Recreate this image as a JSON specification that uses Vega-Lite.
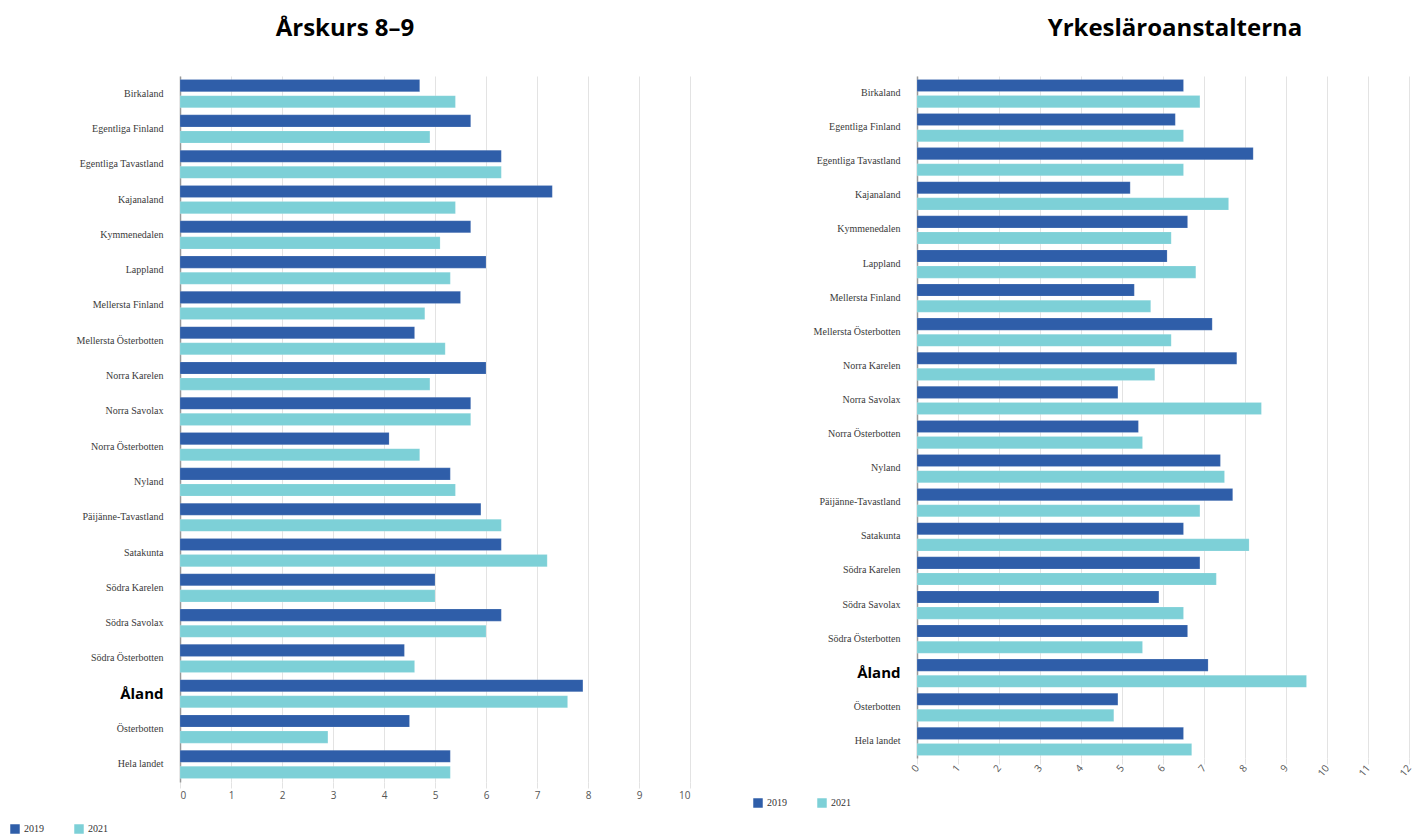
{
  "$schema": "https://vega.github.io/schema/vega-lite/v6.json",
  "padding": {"left": 10, "top": 17, "right": 5, "bottom": 5},
  "background": "white",
  "datasets": {
    "ak": [
      {"region": "Birkaland", "year": "2019", "value": 4.7}, {"region": "Birkaland", "year": "2021", "value": 5.4},
      {"region": "Egentliga Finland", "year": "2019", "value": 5.7}, {"region": "Egentliga Finland", "year": "2021", "value": 4.9},
      {"region": "Egentliga Tavastland", "year": "2019", "value": 6.3}, {"region": "Egentliga Tavastland", "year": "2021", "value": 6.3},
      {"region": "Kajanaland", "year": "2019", "value": 7.3}, {"region": "Kajanaland", "year": "2021", "value": 5.4},
      {"region": "Kymmenedalen", "year": "2019", "value": 5.7}, {"region": "Kymmenedalen", "year": "2021", "value": 5.1},
      {"region": "Lappland", "year": "2019", "value": 6.0}, {"region": "Lappland", "year": "2021", "value": 5.3},
      {"region": "Mellersta Finland", "year": "2019", "value": 5.5}, {"region": "Mellersta Finland", "year": "2021", "value": 4.8},
      {"region": "Mellersta Österbotten", "year": "2019", "value": 4.6}, {"region": "Mellersta Österbotten", "year": "2021", "value": 5.2},
      {"region": "Norra Karelen", "year": "2019", "value": 6.0}, {"region": "Norra Karelen", "year": "2021", "value": 4.9},
      {"region": "Norra Savolax", "year": "2019", "value": 5.7}, {"region": "Norra Savolax", "year": "2021", "value": 5.7},
      {"region": "Norra Österbotten", "year": "2019", "value": 4.1}, {"region": "Norra Österbotten", "year": "2021", "value": 4.7},
      {"region": "Nyland", "year": "2019", "value": 5.3}, {"region": "Nyland", "year": "2021", "value": 5.4},
      {"region": "Päijänne-Tavastland", "year": "2019", "value": 5.9}, {"region": "Päijänne-Tavastland", "year": "2021", "value": 6.3},
      {"region": "Satakunta", "year": "2019", "value": 6.3}, {"region": "Satakunta", "year": "2021", "value": 7.2},
      {"region": "Södra Karelen", "year": "2019", "value": 5.0}, {"region": "Södra Karelen", "year": "2021", "value": 5.0},
      {"region": "Södra Savolax", "year": "2019", "value": 6.3}, {"region": "Södra Savolax", "year": "2021", "value": 6.0},
      {"region": "Södra Österbotten", "year": "2019", "value": 4.4}, {"region": "Södra Österbotten", "year": "2021", "value": 4.6},
      {"region": "Åland", "year": "2019", "value": 7.9}, {"region": "Åland", "year": "2021", "value": 7.6},
      {"region": "Österbotten", "year": "2019", "value": 4.5}, {"region": "Österbotten", "year": "2021", "value": 2.9},
      {"region": "Hela landet", "year": "2019", "value": 5.3}, {"region": "Hela landet", "year": "2021", "value": 5.3}
    ],
    "yrk": [
      {"region": "Birkaland", "year": "2019", "value": 6.5}, {"region": "Birkaland", "year": "2021", "value": 6.9},
      {"region": "Egentliga Finland", "year": "2019", "value": 6.3}, {"region": "Egentliga Finland", "year": "2021", "value": 6.5},
      {"region": "Egentliga Tavastland", "year": "2019", "value": 8.2}, {"region": "Egentliga Tavastland", "year": "2021", "value": 6.5},
      {"region": "Kajanaland", "year": "2019", "value": 5.2}, {"region": "Kajanaland", "year": "2021", "value": 7.6},
      {"region": "Kymmenedalen", "year": "2019", "value": 6.6}, {"region": "Kymmenedalen", "year": "2021", "value": 6.2},
      {"region": "Lappland", "year": "2019", "value": 6.1}, {"region": "Lappland", "year": "2021", "value": 6.8},
      {"region": "Mellersta Finland", "year": "2019", "value": 5.3}, {"region": "Mellersta Finland", "year": "2021", "value": 5.7},
      {"region": "Mellersta Österbotten", "year": "2019", "value": 7.2}, {"region": "Mellersta Österbotten", "year": "2021", "value": 6.2},
      {"region": "Norra Karelen", "year": "2019", "value": 7.8}, {"region": "Norra Karelen", "year": "2021", "value": 5.8},
      {"region": "Norra Savolax", "year": "2019", "value": 4.9}, {"region": "Norra Savolax", "year": "2021", "value": 8.4},
      {"region": "Norra Österbotten", "year": "2019", "value": 5.4}, {"region": "Norra Österbotten", "year": "2021", "value": 5.5},
      {"region": "Nyland", "year": "2019", "value": 7.4}, {"region": "Nyland", "year": "2021", "value": 7.5},
      {"region": "Päijänne-Tavastland", "year": "2019", "value": 7.7}, {"region": "Päijänne-Tavastland", "year": "2021", "value": 6.9},
      {"region": "Satakunta", "year": "2019", "value": 6.5}, {"region": "Satakunta", "year": "2021", "value": 8.1},
      {"region": "Södra Karelen", "year": "2019", "value": 6.9}, {"region": "Södra Karelen", "year": "2021", "value": 7.3},
      {"region": "Södra Savolax", "year": "2019", "value": 5.9}, {"region": "Södra Savolax", "year": "2021", "value": 6.5},
      {"region": "Södra Österbotten", "year": "2019", "value": 6.6}, {"region": "Södra Österbotten", "year": "2021", "value": 5.5},
      {"region": "Åland", "year": "2019", "value": 7.1}, {"region": "Åland", "year": "2021", "value": 9.5},
      {"region": "Österbotten", "year": "2019", "value": 4.9}, {"region": "Österbotten", "year": "2021", "value": 4.8},
      {"region": "Hela landet", "year": "2019", "value": 6.5}, {"region": "Hela landet", "year": "2021", "value": 6.7}
    ]
  },
  "config": {
    "view": {"stroke": null},
    "title": {"font": "Open Sans", "fontSize": 24, "fontWeight": "bold", "color": "#000", "anchor": "middle", "frame": "group", "offset": 35},
    "axisY": {
      "title": null, "ticks": false, "grid": false, "domainColor": "#999", "domainWidth": 1.5, "labelPadding": 17,
      "labelFont": {"condition": {"test": "datum.value === 'Åland'", "value": "Open Sans"}, "value": "Liberation Serif"},
      "labelFontSize": {"condition": {"test": "datum.value === 'Åland'", "value": 15}, "value": 10},
      "labelFontWeight": {"condition": {"test": "datum.value === 'Åland'", "value": "bold"}, "value": "normal"},
      "labelColor": {"condition": {"test": "datum.value === 'Åland'", "value": "#000"}, "value": "#3a3a3a"}
    },
    "axisX": {
      "title": null, "domain": false, "gridColor": "#e3e3e3", "tickColor": "#e3e3e3", "tickSize": 6,
      "labelFont": "Open Sans", "labelFontSize": 10, "labelColor": "#555", "labelPadding": 2
    },
    "legend": {"labelFont": "Liberation Serif", "labelFontSize": 10, "labelColor": "#333", "symbolType": "square", "symbolSize": 90, "symbolStrokeWidth": 0, "columnPadding": 30, "title": null, "direction": "horizontal", "orient": "none"}
  },
  "spacing": 62,
  "resolve": {"legend": {"color": "independent"}},
  "hconcat": [
    {
      "title": {"text": "Årskurs 8–9", "dx": -90},
      "width": 510,
      "height": 706,
      "data": {"name": "ak"},
      "mark": {"type": "bar", "stroke": "#ffffff", "strokeOpacity": 0.3, "strokeWidth": 0.5},
      "encoding": {
        "y": {"field": "region", "type": "nominal", "sort": null, "scale": {"paddingInner": 0.2, "paddingOuter": 0.1}},
        "yOffset": {"field": "year", "type": "nominal", "scale": {"paddingInner": 0.25}},
        "x": {"field": "value", "type": "quantitative", "scale": {"domain": [0, 10], "nice": false}, "axis": {"values": [0,1,2,3,4,5,6,7,8,9,10]}},
        "color": {"field": "year", "type": "nominal", "scale": {"domain": ["2019", "2021"], "range": ["#2f5ea9", "#7dd0d7"]}, "legend": {"legendX": -170, "legendY": 748}}
      }
    },
    {
      "title": {"text": "Yrkesläroanstalterna", "dx": 12},
      "width": 492,
      "height": 682,
      "data": {"name": "yrk"},
      "mark": {"type": "bar", "stroke": "#ffffff", "strokeOpacity": 0.3, "strokeWidth": 0.5},
      "encoding": {
        "y": {"field": "region", "type": "nominal", "sort": null, "scale": {"paddingInner": 0.2, "paddingOuter": 0.1}},
        "yOffset": {"field": "year", "type": "nominal", "scale": {"paddingInner": 0.25}},
        "x": {"field": "value", "type": "quantitative", "scale": {"domain": [0, 12], "nice": false}, "axis": {"values": [0,1,2,3,4,5,6,7,8,9,10,11,12], "labelAngle": -50}},
        "color": {"field": "year", "type": "nominal", "scale": {"domain": ["2019", "2021"], "range": ["#2f5ea9", "#7dd0d7"]}, "legend": {"legendX": -164, "legendY": 722}}
      }
    }
  ]
}
